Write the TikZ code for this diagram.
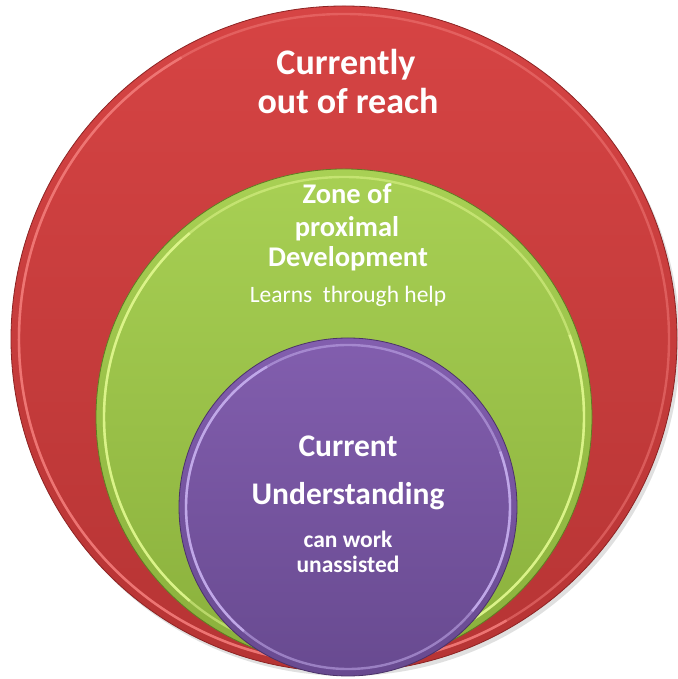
\documentclass[tikz,border=0pt]{standalone}
\usepackage{fontspec}
\setmainfont{Carlito}
\definecolor{redtop}{RGB}{214,68,68}
\definecolor{redbot}{RGB}{182,52,52}
\definecolor{redrim}{RGB}{240,120,118}
\definecolor{rededge}{RGB}{140,35,35}
\definecolor{greentop}{RGB}{168,208,84}
\definecolor{greenbot}{RGB}{138,176,60}
\definecolor{greenrim}{RGB}{222,246,140}
\definecolor{greenedge}{RGB}{95,125,35}
\definecolor{purptop}{RGB}{130,94,174}
\definecolor{purpbot}{RGB}{104,74,144}
\definecolor{purprim}{RGB}{196,172,236}
\definecolor{purpedge}{RGB}{75,50,105}
\tikzset{
  disc/.style={circle, inner sep=0pt, line width=0.8pt},
  rimline/.style={line width=2.4pt, opacity=0.55},
  rimstrong/.style={line width=2.4pt, opacity=0.9},
  bigtxt/.style={anchor=base, text=white, font=\bfseries\fontsize{36}{40}\selectfont, inner sep=0pt},
  midtxt/.style={anchor=base, text=white, font=\bfseries\fontsize{28.5}{32}\selectfont, inner sep=0pt},
  undtxt/.style={anchor=base, text=white, font=\bfseries\fontsize{31.5}{36}\selectfont, inner sep=0pt},
  smalltxt/.style={anchor=base, text=white, font=\fontsize{23.5}{28}\selectfont, inner sep=0pt},
  smallbold/.style={anchor=base, text=white, font=\bfseries\fontsize{23.5}{28}\selectfont, inner sep=0pt}
}
\begin{document}
\begin{tikzpicture}[x=1pt,y=1pt]
\useasboundingbox (0,0) rectangle (677,679);
% shadow
\fill[black!35, opacity=0.35] (347,336) circle (333);
% red disc
\node[disc, draw=rededge, top color=redtop, bottom color=redbot, minimum size=666] (red) at (344,340) {};
\draw[rimline, redrim] (red.center) circle (325);
\draw[rimstrong, redrim] ([shift={(120:325)}]red.center) arc (120:300:325);
% green disc
\node[disc, draw=greenedge, top color=greentop, bottom color=greenbot, minimum size=496] (green) at (344,262) {};
\draw[rimline, greenrim] (green.center) circle (240);
\draw[rimstrong, greenrim] ([shift={(130:240)}]green.center) arc (130:230:240);
\draw[rimstrong, greenrim] ([shift={(-60:240)}]green.center) arc (-60:20:240);
% purple disc
\node[disc, draw=purpedge, top color=purptop, bottom color=purpbot, minimum size=338] (purple) at (348,172) {};
\draw[rimline, purprim] (purple.center) circle (162);
\draw[rimstrong, purprim] ([shift={(120:162)}]purple.center) arc (120:230:162);
\draw[rimstrong, purprim] ([shift={(-40:162)}]purple.center) arc (-40:20:162);
% texts
\node[bigtxt] (t1) at (346,604) {Currently};
\node[bigtxt] (t2) at (348,565) {out of reach};
\node[midtxt] (z1) at (347,475) {Zone of};
\node[midtxt] (z2) at (347,442) {proximal};
\node[midtxt] (z3) at (348,412) {Development};
\node[smalltxt] (z4) at (348,376) {Learns\ \ through help};
\node[undtxt] (c1) at (348,222) {Current};
\node[undtxt] (c2) at (348,174) {Understanding};
\node[smallbold] (c3) at (348,131) {can work};
\node[smallbold] (c4) at (348,106) {unassisted};
\end{tikzpicture}
\end{document}
